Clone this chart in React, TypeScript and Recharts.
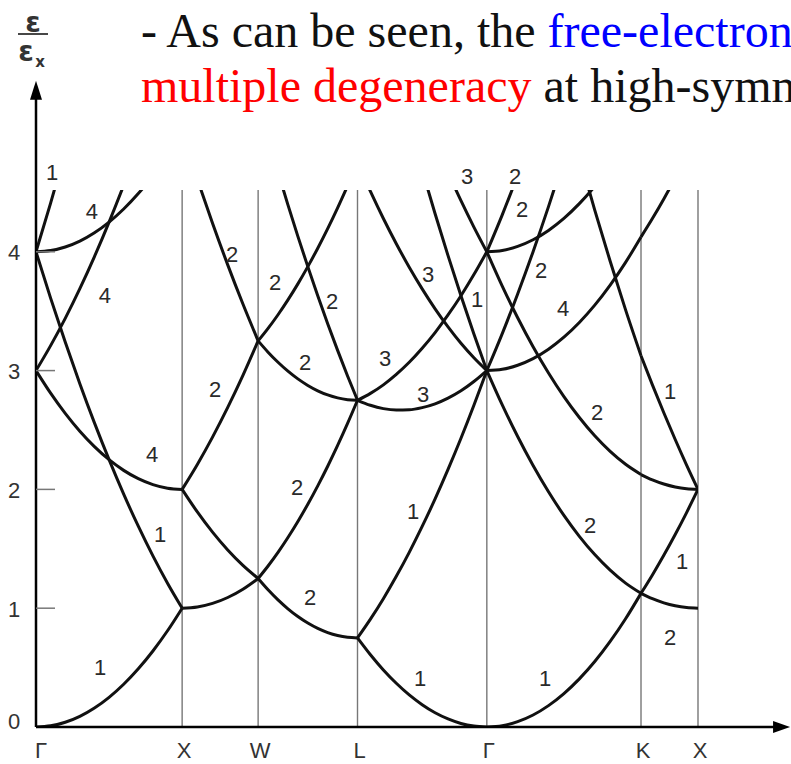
import React from 'react';
import { LineChart, Line, XAxis, YAxis, ReferenceLine, ReferenceDot } from 'recharts';

// symmetry points along the k-path (path coordinate) and their names
const symPoints = [0, 1.0, 1.52, 2.2, 3.085, 4.14, 4.53];
const symLabels = ['Γ', 'X', 'W', 'L', 'Γ', 'K', 'X'];
const yTicks = [0, 1, 2, 3, 4];

// sample fractions along each segment
const frac11 = [0, 0.1, 0.2, 0.3, 0.4, 0.5, 0.6, 0.7, 0.8, 0.9, 1];
const frac6 = [0, 0.2, 0.4, 0.6, 0.8, 1];

// ε/εx read along Γ–X
const bandsGX = [
  [0, 0.01, 0.04, 0.09, 0.16, 0.25, 0.36, 0.49, 0.64, 0.81, 1],
  [3, 2.81, 2.64, 2.49, 2.36, 2.25, 2.16, 2.09, 2.04, 2.01, 2],
  [3, 3.21, 3.44, 3.69, 3.96, 4.25, 4.56, 4.89, 5.24, 5.61, 6],
  [4, 3.61, 3.24, 2.89, 2.56, 2.25, 1.96, 1.69, 1.44, 1.21, 1],
  [4, 4.41, 4.84, 5.29, 5.76, 6.25, 6.76, 7.29, 7.84, 8.41, 9],
  [4, 4.01, 4.04, 4.09, 4.16, 4.25, 4.36, 4.49, 4.64, 4.81, 5],
];
// X–W
const bandsXW = [
  [1, 1.01, 1.04, 1.09, 1.16, 1.25],
  [2, 1.81, 1.64, 1.49, 1.36, 1.25],
  [2, 2.21, 2.44, 2.69, 2.96, 3.25],
  [5, 4.61, 4.24, 3.89, 3.56, 3.25],
];
// W–L
const bandsWL = [
  [1.25, 1.155, 1.07, 0.995, 0.93, 0.875, 0.83, 0.795, 0.77, 0.755, 0.75],
  [1.25, 1.355, 1.47, 1.595, 1.73, 1.875, 2.03, 2.195, 2.37, 2.555, 2.75],
  [3.25, 3.155, 3.07, 2.995, 2.93, 2.875, 2.83, 2.795, 2.77, 2.755, 2.75],
  [3.25, 3.355, 3.47, 3.595, 3.73, 3.875, 4.03, 4.195, 4.37, 4.555, 4.75],
  [5.25, 4.955, 4.67, 4.395, 4.13, 3.875, 3.63, 3.395, 3.17, 2.955, 2.75],
];
// L–Γ
const bandsLG = [
  [0.75, 0.608, 0.48, 0.368, 0.27, 0.188, 0.12, 0.068, 0.03, 0.008, 0],
  [0.75, 0.908, 1.08, 1.268, 1.47, 1.688, 1.92, 2.168, 2.43, 2.708, 3],
  [2.75, 2.708, 2.68, 2.668, 2.67, 2.688, 2.72, 2.768, 2.83, 2.908, 3],
  [4.75, 4.508, 4.28, 4.068, 3.87, 3.688, 3.52, 3.368, 3.23, 3.108, 3],
  [6.75, 6.308, 5.88, 5.468, 5.07, 4.688, 4.32, 3.968, 3.63, 3.308, 3],
  [2.75, 2.808, 2.88, 2.968, 3.07, 3.188, 3.32, 3.468, 3.63, 3.808, 4],
  [6.75, 6.408, 6.08, 5.768, 5.47, 5.188, 4.92, 4.668, 4.43, 4.208, 4],
];
// Γ–K
const bandsGK = [
  [0, 0.011, 0.045, 0.101, 0.18, 0.281, 0.405, 0.551, 0.72, 0.911, 1.125],
  [3, 2.711, 2.445, 2.201, 1.98, 1.781, 1.605, 1.451, 1.32, 1.211, 1.125],
  [3, 3.311, 3.645, 4.001, 4.38, 4.781, 5.205, 5.651, 6.12, 6.611, 7.125],
  [3, 3.011, 3.045, 3.101, 3.18, 3.281, 3.405, 3.551, 3.72, 3.911, 4.125],
  [4, 3.711, 3.445, 3.201, 2.98, 2.781, 2.605, 2.451, 2.32, 2.211, 2.125],
  [4, 4.311, 4.645, 5.001, 5.38, 5.781, 6.205, 6.651, 7.12, 7.611, 8.125],
  [4, 4.011, 4.045, 4.101, 4.18, 4.281, 4.405, 4.551, 4.72, 4.911, 5.125],
  [8, 7.411, 6.845, 6.301, 5.78, 5.281, 4.805, 4.351, 3.92, 3.511, 3.125],
];
// K–X
const bandsKX = [
  [1.125, 1.28, 1.445, 1.62, 1.805, 2],
  [1.125, 1.08, 1.045, 1.02, 1.005, 1],
  [4.125, 4.28, 4.445, 4.62, 4.805, 5],
  [2.125, 2.08, 2.045, 2.02, 2.005, 2],
  [3.125, 2.88, 2.645, 2.42, 2.205, 2],
];

// degeneracy labels (k-path coordinate, energy, text)
const degK = [0.11, 0.383, 0.472, 0.794, 0.849, 0.438, 1.342, 1.636, 2.026, 1.225, 1.841, 2.389, 2.649, 1.786, 2.58, 1.875, 2.628, 3.484, 3.792, 3.84, 4.339, 4.422, 4.339, 3.607, 3.456, 3.326, 3.279, 2.95, 2.683, 3.018];
const degE = [4.67, 4.34, 3.63, 2.29, 1.62, 0.5, 3.98, 3.74, 3.58, 2.84, 3.07, 3.1, 2.8, 2.02, 1.81, 1.09, 0.41, 0.41, 1.7, 2.65, 2.82, 1.39, 0.75, 3.52, 3.84, 4.36, 4.63, 4.63, 3.81, 3.6];
const degText = ['1', '4', '4', '4', '1', '1', '2', '2', '2', '2', '2', '3', '3', '2', '1', '2', '1', '1', '2', '2', '1', '1', '2', '4', '2', '2', '2', '3', '3', '1'];

const segments = [
  { from: 0, to: 1, fracs: frac11, bands: bandsGX },
  { from: 1, to: 2, fracs: frac6, bands: bandsXW },
  { from: 2, to: 3, fracs: frac11, bands: bandsWL },
  { from: 3, to: 4, fracs: frac11, bands: bandsLG },
  { from: 4, to: 5, fracs: frac11, bands: bandsGK },
  { from: 5, to: 6, fracs: frac6, bands: bandsKX },
];

const curves: { key: string; data: { k: number; e: number }[] }[] = [];
segments.forEach((seg, si) => {
  const a = symPoints[seg.from];
  const b = symPoints[seg.to];
  seg.bands.forEach((band, bi) => {
    curves.push({
      key: `s${si}b${bi}`,
      data: seg.fracs.map((f, i) => ({ k: a + f * (b - a), e: band[i] })),
    });
  });
});

const SANS = "'Liberation Sans', Arial, Helvetica, sans-serif";
const SERIF = "'Liberation Serif', 'Times New Roman', serif";

const YTick = (props: any) => {
  const { x, y, payload } = props;
  const v = payload.value;
  return (
    <g>
      {v > 0 && <line x1={x} x2={x + 19} y1={y} y2={y} stroke="#777" strokeWidth={1.5} />}
      <text x={x - 22} y={v === 0 ? y - 6 : y + 1} textAnchor="middle" dominantBaseline="central" fontSize={22} fill="#333" fontFamily={SANS}>
        {v}
      </text>
    </g>
  );
};

const XTick = (props: any) => {
  const { x, y, payload } = props;
  const idx = symPoints.indexOf(payload.value);
  return (
    <text x={x + (idx === 0 ? 5 : 2)} y={y + 23} textAnchor="middle" dominantBaseline="central" fontSize={22} fill="#333" fontFamily={SANS}>
      {symLabels[idx]}
    </text>
  );
};

const textShape = (t: string) => (p: any) => (
  <text x={p.cx} y={p.cy} textAnchor="middle" dominantBaseline="central" fontSize={22} fill="#2a2a2a" fontFamily={SANS}>
    {t}
  </text>
);

const upArrow = (p: any) => (
  <path d={`M ${p.cx} ${p.cy} L ${p.cx - 6} ${p.cy + 19} L ${p.cx + 6} ${p.cy + 19} Z`} fill="#000" />
);
const rightArrow = (p: any) => (
  <path d={`M ${p.cx} ${p.cy} L ${p.cx - 17} ${p.cy - 6} L ${p.cx - 17} ${p.cy + 6} Z`} fill="#000" />
);

export default function App() {
  return (
    <div style={{ position: 'absolute', left: 0, top: 0, width: 791, height: 764, overflow: 'hidden', background: '#fff' }}>
      <LineChart width={791} height={764} margin={{ top: 190, right: 93, bottom: 7, left: 0 }}>
        <XAxis
          type="number"
          dataKey="k"
          domain={[0, 4.53]}
          allowDataOverflow
          ticks={symPoints}
          interval={0}
          tick={<XTick />}
          tickSize={0}
          tickMargin={0}
          axisLine={false}
          tickLine={false}
          height={30}
        />
        <YAxis
          type="number"
          domain={[0, 4.52]}
          allowDataOverflow
          ticks={yTicks}
          interval={0}
          tick={<YTick />}
          tickSize={0}
          tickMargin={0}
          axisLine={false}
          tickLine={false}
          width={36}
        />
        {symPoints.slice(1).map((p, i) => (
          <ReferenceLine key={`v${i}`} x={p} stroke="#777" strokeWidth={1.4} ifOverflow="visible" />
        ))}
        {curves.map((c) => (
          <Line
            key={c.key}
            data={c.data}
            dataKey="e"
            type="monotone"
            stroke="#111"
            strokeWidth={3}
            dot={false}
            activeDot={false}
            isAnimationActive={false}
          />
        ))}
        <ReferenceLine segment={[{ x: 0, y: 0 }, { x: 0, y: 5.3 }]} stroke="#000" strokeWidth={2.5} ifOverflow="visible" />
        <ReferenceLine segment={[{ x: 0, y: 0 }, { x: 5.05, y: 0 }]} stroke="#000" strokeWidth={2.5} ifOverflow="visible" />
        <ReferenceDot x={0} y={5.44} ifOverflow="visible" shape={upArrow} />
        <ReferenceDot x={5.16} y={0} ifOverflow="visible" shape={rightArrow} />
        {degText.map((t, i) => (
          <ReferenceDot key={`d${i}`} x={degK[i]} y={degE[i]} ifOverflow="visible" shape={textShape(t)} />
        ))}
      </LineChart>
      <svg width={791} height={130} style={{ position: 'absolute', left: 0, top: 0 }}>
        <text x={141} y={47} fontSize={48} fontFamily={SERIF} fill="#111">
          - As can be seen, the <tspan fill="#0000ff">free-electron</tspan>
        </text>
        <text x={141} y={102} fontSize={48} fontFamily={SERIF} fill="#111">
          <tspan fill="#ff0000">multiple degeneracy</tspan> at high-symm
        </text>
        <text x={33} y={22} textAnchor="middle" dominantBaseline="central" fontSize={28} fontWeight="bold" fill="#333" fontFamily="'DejaVu Sans', sans-serif">ε</text>
        <line x1={18} x2={48} y1={34} y2={34} stroke="#333" strokeWidth={1.8} />
        <text x={26} y={51} textAnchor="middle" dominantBaseline="central" fontSize={28} fontWeight="bold" fill="#333" fontFamily="'DejaVu Sans', sans-serif">ε</text>
        <text x={40} y={62} textAnchor="middle" dominantBaseline="central" fontSize={15} fontWeight="bold" fill="#333" fontFamily="'DejaVu Sans', sans-serif">x</text>
      </svg>
    </div>
  );
}
